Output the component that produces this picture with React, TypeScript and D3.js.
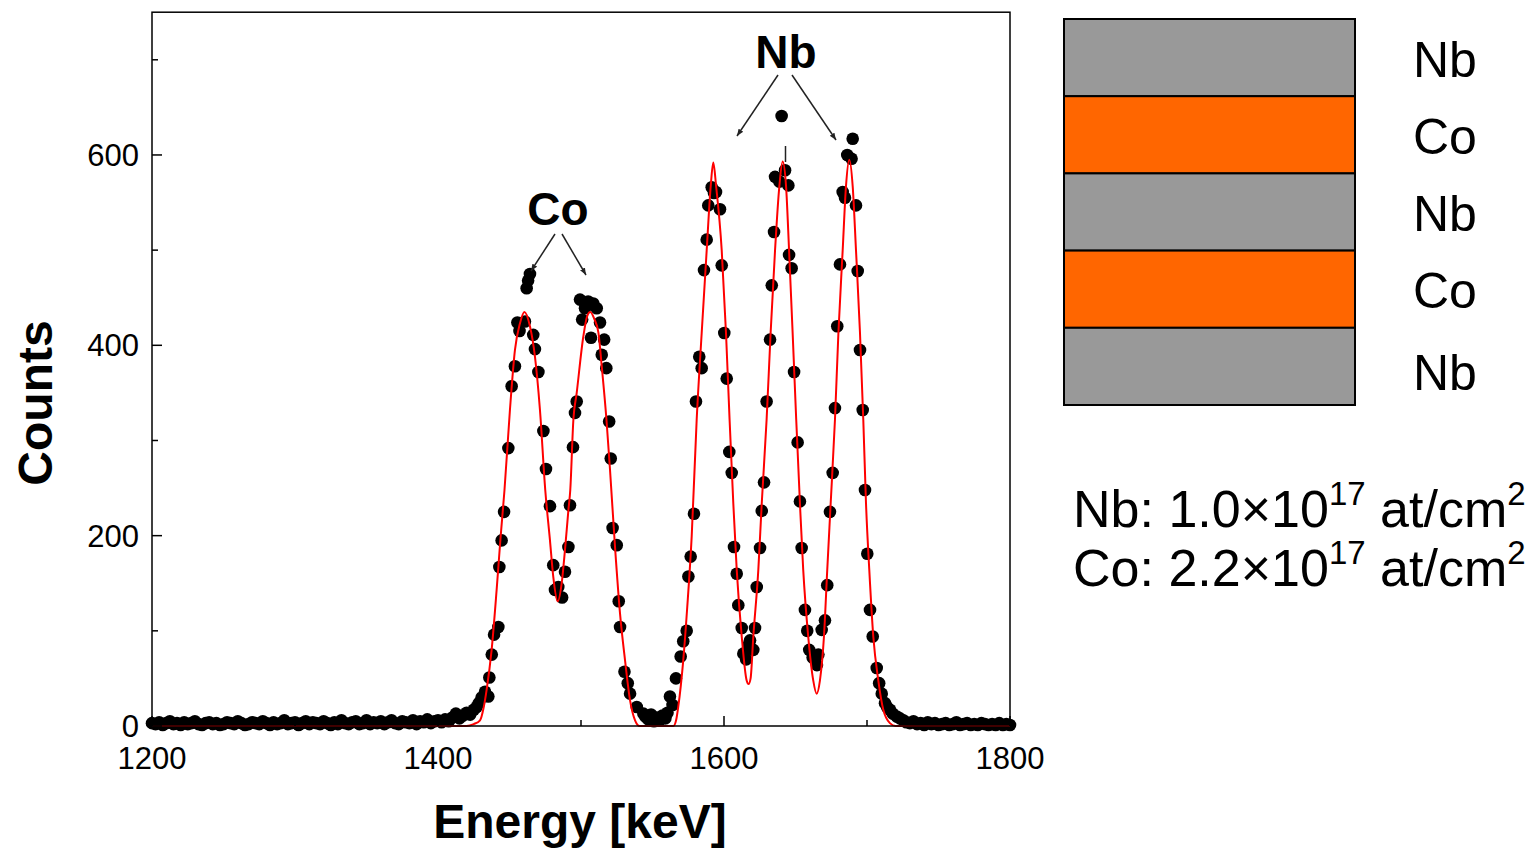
import React from "react";
import * as d3 from "d3";

// Measured spectrum: [energy keV, counts]
const baselineLeft: [number, number][] = [
  [1200, 3], [1202.5, 2], [1205, 4], [1207.5, 1], [1210, 3], [1212.5, 5], [1215, 2], [1217.5, 3], [1220, 1], [1222.5, 4],
  [1225, 2], [1227.5, 3], [1230, 5], [1232.5, 2], [1235, 1], [1237.5, 3], [1240, 4], [1242.5, 2], [1245, 3], [1247.5, 1],
  [1250, 2], [1252.5, 4], [1255, 3], [1257.5, 2], [1260, 5], [1262.5, 3], [1265, 1], [1267.5, 2], [1270, 4], [1272.5, 3],
  [1275, 2], [1277.5, 5], [1280, 3], [1282.5, 1], [1285, 4], [1287.5, 2], [1290, 3], [1292.5, 6], [1295, 2], [1297.5, 3],
  [1300, 4], [1302.5, 1], [1305, 3], [1307.5, 5], [1310, 2], [1312.5, 4], [1315, 3], [1317.5, 2], [1320, 5], [1322.5, 3],
  [1325, 1], [1327.5, 4], [1330, 2], [1332.5, 6], [1335, 3], [1337.5, 2], [1340, 4], [1342.5, 5], [1345, 2], [1347.5, 3],
  [1350, 6], [1352.5, 2], [1355, 4], [1357.5, 3], [1360, 5], [1362.5, 2], [1365, 4], [1367.5, 6], [1370, 3], [1372.5, 2],
  [1375, 5], [1377.5, 4], [1380, 3], [1382.5, 6], [1385, 2], [1387.5, 5], [1390, 4], [1392.5, 7], [1395, 3], [1397.5, 5],
  [1400, 6], [1402.5, 4], [1405, 7], [1407.5, 5], [1410, 9], [1412.5, 13], [1415, 8], [1417.5, 11], [1420, 14], [1422.5, 12],
  [1425, 17], [1427, 20], [1428.5, 24],
];

const coPeaks: [number, number][] = [
  [1430.5, 30], [1432.9, 36], [1435.2, 31], [1435.9, 51], [1437.6, 75], [1439.2, 96], [1442.2, 104], [1442.9, 167],
  [1444.5, 195], [1446.2, 225], [1449.2, 292], [1451.5, 357], [1453.8, 378], [1455.5, 424], [1457, 415], [1460.8, 425],
  [1462, 460], [1463, 468], [1464.3, 475], [1466.6, 411], [1467.8, 396], [1470.2, 372], [1473.7, 310], [1475.5, 270],
  [1478.3, 231], [1480.6, 169], [1481.8, 143], [1484.1, 146], [1486.8, 135], [1488.8, 162], [1491.2, 188], [1492.3, 232],
  [1494.4, 293], [1495.8, 329], [1497, 341], [1499.3, 448], [1500.8, 427], [1502.8, 439], [1505, 446], [1507, 408],
  [1508.6, 444], [1511, 439], [1513.3, 424], [1514.5, 390], [1516.2, 406], [1517.7, 376], [1519.7, 320], [1520.8, 281],
  [1522.1, 208], [1525, 190], [1526.4, 131], [1527.3, 104], [1530.4, 57], [1532.7, 45], [1534.3, 34], [1539, 20],
  [1543.6, 13],
];

const gapPoints: [number, number][] = [
  [1545, 10], [1547, 7], [1549, 12], [1551, 5], [1553, 9], [1555, 6], [1557, 11], [1559, 8], [1560.5, 14], [1562.2, 31],
  [1564, 22],
];

const nbPeaks: [number, number][] = [
  [1566.4, 50], [1569.7, 73], [1571.5, 89], [1573.9, 100], [1575.1, 157], [1576.7, 178], [1579, 223], [1580.4, 341],
  [1582.7, 388], [1584.4, 376], [1586, 479], [1587.9, 511], [1589, 547], [1591.4, 566], [1593, 560], [1594.4, 561],
  [1597.2, 543], [1598.4, 484], [1600.2, 413], [1601.9, 365], [1603.7, 288], [1605.4, 266], [1607, 188], [1608.9, 160],
  [1610, 127], [1612.4, 103], [1613.5, 76], [1615.5, 70], [1617, 85], [1618.2, 90], [1620.5, 80], [1621.7, 103],
  [1622.9, 146], [1625.2, 187], [1626.4, 226], [1628, 256], [1629.8, 341], [1632.2, 406], [1633.4, 463], [1635, 519],
  [1635.7, 577], [1638.7, 572], [1640.3, 641], [1642.7, 584], [1645, 568], [1645.5, 495], [1647.3, 481], [1649, 372],
  [1651.5, 298], [1653.1, 236], [1654.3, 187], [1656.6, 122], [1658.2, 100], [1659.6, 80], [1662, 72], [1663.5, 70],
  [1665, 64], [1666, 75], [1668.3, 101], [1670.6, 111], [1672.2, 148], [1674.1, 225], [1676, 266], [1677.6, 334],
  [1679.2, 420], [1681.1, 485], [1683, 561], [1684.6, 555], [1686.2, 600], [1689.2, 596], [1690, 617], [1692.3, 547],
  [1693.5, 478], [1695.1, 395], [1697, 332], [1698.6, 248], [1700.2, 181], [1702.1, 122], [1704, 94], [1706.8, 61],
  [1708.5, 45], [1710.3, 34], [1712.6, 24], [1714, 20], [1716.1, 17], [1718, 13], [1720.8, 10], [1723, 8], [1725.4, 6],
];

const baselineRight: [number, number][] = [
  [1727.5, 4], [1730, 3], [1732.5, 5], [1735, 2], [1737.5, 3], [1740, 1], [1742.5, 4], [1745, 2], [1747.5, 3], [1750, 1],
  [1752.5, 2], [1755, 3], [1757.5, 1], [1760, 2], [1762.5, 4], [1765, 1], [1767.5, 2], [1770, 3], [1772.5, 1], [1775, 2],
  [1777.5, 1], [1780, 3], [1782.5, 2], [1785, 1], [1787.5, 2], [1790, 1], [1792.5, 3], [1795, 1], [1797.5, 2], [1800, 1],
];

// Fit curve
const fitCurve: [number, number][] = [
  [1200, 0], [1420, 0], [1425, 2], [1429.4, 6], [1432, 20], [1434, 38], [1437.5, 80], [1441, 143], [1443.8, 199],
  [1446.5, 248], [1450.3, 332], [1453.8, 395], [1457.3, 423], [1460.4, 435], [1464.3, 420], [1467.8, 388], [1471.3, 332],
  [1475, 248], [1478.3, 195], [1480.6, 157], [1483.7, 131], [1486.5, 150], [1488.8, 185], [1491.2, 227], [1492.5, 248],
  [1494.6, 320], [1497, 350], [1501.6, 409], [1504.2, 430], [1506.5, 435], [1509.2, 428], [1512.2, 413], [1514.5, 378],
  [1517.8, 322], [1520.3, 269], [1523.8, 188], [1527.3, 118], [1530.8, 69], [1534.3, 27], [1537.8, 6], [1541, 0],
  [1564.6, 0], [1566.5, 6], [1568, 20], [1571.5, 69], [1574.3, 125], [1577.4, 199], [1580.9, 322], [1584.4, 413],
  [1587.9, 500], [1590.7, 567], [1592.5, 592], [1594.5, 567], [1598.4, 500], [1601.4, 413], [1603.9, 322], [1606.5, 234],
  [1608.9, 164], [1612.4, 94], [1615.8, 48], [1617.2, 44], [1618.6, 50], [1620.5, 94], [1624, 164], [1626.4, 234],
  [1629.8, 322], [1632.6, 413], [1635.7, 500], [1638.7, 567], [1641, 593], [1643.4, 567], [1645.5, 500], [1648, 413],
  [1650.5, 322], [1653.1, 234], [1655.4, 164], [1658.9, 94], [1662.4, 48], [1664.8, 34], [1667.1, 48], [1669.9, 94],
  [1672.2, 164], [1674.6, 234], [1677.6, 322], [1680, 413], [1683, 500], [1685.3, 567], [1687.6, 595], [1690, 567],
  [1692.3, 500], [1695.1, 413], [1697.4, 322], [1699.3, 234], [1701.6, 164], [1704.4, 94], [1707.9, 48], [1711.4, 17],
  [1716, 3], [1720, 0], [1800, 0],
];

const xMajorTicks = [1200, 1400, 1600, 1800];
const xMinorTicks = [1300, 1500, 1700];
const yMajorTicks = [0, 200, 400, 600];
const yMinorTicks = [100, 300, 500, 700];

const layers = ["Nb", "Co", "Nb", "Co", "Nb"];
const layerColors: Record<string, string> = { Nb: "#999999", Co: "#ff6600" };
const areaDensities = [
  { el: "Nb", mant: "1.0", exp: "17" },
  { el: "Co", mant: "2.2", exp: "17" },
];

const FONT = "'Liberation Sans', Arial, Helvetica, sans-serif";

export default function App() {
  const x = d3.scaleLinear().domain([1200, 1800]).range([152, 1010]);
  const y = d3.scaleLinear().domain([0, 750]).range([726, 12.2]);

  const points = [...baselineLeft, ...coPeaks, ...gapPoints, ...nbPeaks, ...baselineRight];
  const line = d3
    .line<[number, number]>()
    .x((d) => x(d[0]))
    .y((d) => y(d[1]))
    .curve(d3.curveMonotoneX);

  const layerY = d3.scaleBand<number>().domain(d3.range(layers.length)).range([19, 405]).padding(0);

  return (
    <svg
      width={1532}
      height={851}
      style={{ position: "absolute", left: 0, top: 0, background: "#fff" }}
      fontFamily={FONT}
    >
      <defs>
        <marker id="arrow" viewBox="0 0 10 10" refX="10" refY="5" markerWidth="7" markerHeight="7" orient="auto-start-reverse" markerUnits="userSpaceOnUse">
          <path d="M0,1 L10,5 L0,9 Z" fill="#222" />
        </marker>
      </defs>

      {/* data points */}
      <g>
        {points.map((d, i) => (
          <circle key={i} cx={x(d[0])} cy={y(d[1])} r={6.3} fill="#000" />
        ))}
      </g>

      {/* fit */}
      <path d={line(fitCurve) || ""} fill="none" stroke="#ff0000" strokeWidth={2} />

      {/* frame */}
      <rect x={x(1200)} y={y(750)} width={x(1800) - x(1200)} height={y(0) - y(750)} fill="none" stroke="#000" strokeWidth={1.5} />

      {/* ticks */}
      {xMajorTicks.map((t) => (
        <g key={"xm" + t}>
          <line x1={x(t)} x2={x(t)} y1={y(0)} y2={y(0) - 10} stroke="#000" strokeWidth={1.5} />
          <text x={x(t)} y={769} fontSize={31} textAnchor="middle" fill="#000">{t}</text>
        </g>
      ))}
      {xMinorTicks.map((t) => (
        <line key={"xn" + t} x1={x(t)} x2={x(t)} y1={y(0)} y2={y(0) - 6} stroke="#000" strokeWidth={1.5} />
      ))}
      {yMajorTicks.map((t) => (
        <g key={"ym" + t}>
          <line x1={x(1200)} x2={x(1200) + 10} y1={y(t)} y2={y(t)} stroke="#000" strokeWidth={1.5} />
          <text x={139} y={y(t) + 11} fontSize={31} textAnchor="end" fill="#000">{t}</text>
        </g>
      ))}
      {yMinorTicks.map((t) => (
        <line key={"yn" + t} x1={x(1200)} x2={x(1200) + 6} y1={y(t)} y2={y(t)} stroke="#000" strokeWidth={1.5} />
      ))}

      {/* axis titles */}
      <text transform="translate(52,403) rotate(-90)" fontSize={48} fontWeight="bold" textAnchor="middle" fill="#000">Counts</text>
      <text x={580} y={838} fontSize={48} fontWeight="bold" textAnchor="middle" fill="#000">Energy [keV]</text>

      {/* annotations */}
      <text x={558} y={225} fontSize={46} fontWeight="bold" textAnchor="middle" fill="#000">Co</text>
      <line x1={555} y1={234} x2={531} y2={271} stroke="#222" strokeWidth={1.5} markerEnd="url(#arrow)" />
      <line x1={562} y1={234} x2={586} y2={275} stroke="#222" strokeWidth={1.5} markerEnd="url(#arrow)" />
      <text x={786} y={68} fontSize={46} fontWeight="bold" textAnchor="middle" fill="#000">Nb</text>
      <line x1={778} y1={75} x2={737} y2={136} stroke="#222" strokeWidth={1.5} markerEnd="url(#arrow)" />
      <line x1={792} y1={75} x2={836} y2={140} stroke="#222" strokeWidth={1.5} markerEnd="url(#arrow)" />
      <line x1={785.5} y1={146} x2={785.5} y2={162} stroke="#222" strokeWidth={1.5} />

      {/* layer stack */}
      <g>
        {layers.map((el, i) => (
          <rect key={"l" + i} x={1064} y={layerY(i)} width={291} height={layerY.bandwidth()} fill={layerColors[el]} stroke="#000" strokeWidth={2} />
        ))}
        {layers.map((el, i) => (
          <text key={"t" + i} x={1413} y={(layerY(i) || 0) + layerY.bandwidth() / 2 + 19 + (i === layers.length - 1 ? 5 : 0)} fontSize={50} fill="#000">{el}</text>
        ))}
      </g>

      {areaDensities.map((a, i) => (
        <text key={"a" + i} x={1073} y={527 + i * 59} fontSize={52} fill="#000">
          {a.el}: {a.mant}×10
          <tspan fontSize={33} dy={-22}>{a.exp}</tspan>
          <tspan dy={22}> at/cm</tspan>
          <tspan fontSize={33} dy={-22}>2</tspan>
        </text>
      ))}
    </svg>
  );
}
